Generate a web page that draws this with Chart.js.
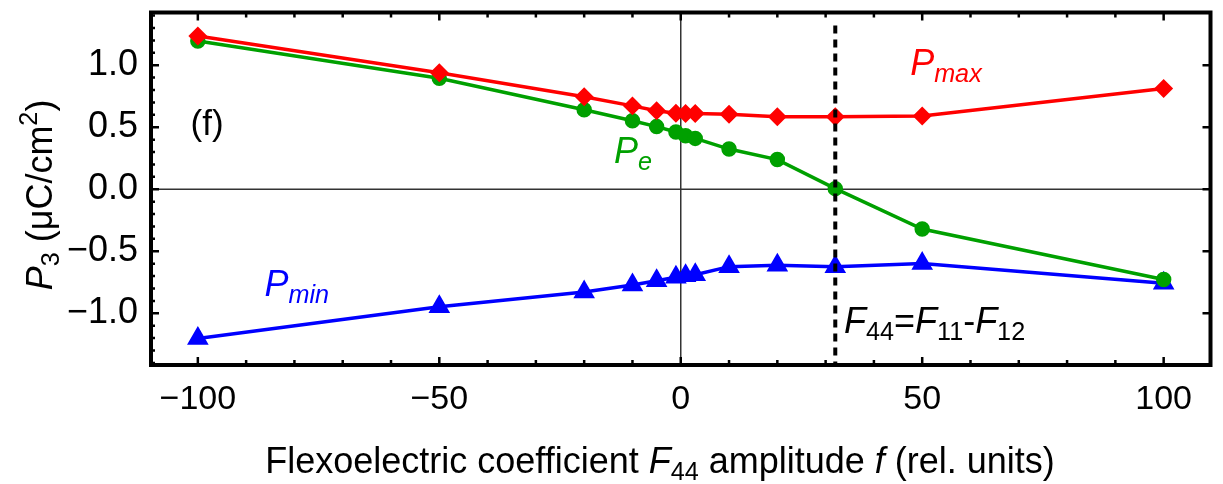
<!DOCTYPE html>
<html>
<head>
<meta charset="utf-8">
<script src="https://cdn.jsdelivr.net/npm/chart.js@4/dist/chart.umd.min.js"></script>
<style>
  html, body { margin: 0; padding: 0; background: #fff; }
  #wrap { width: 1223px; height: 484px; }
</style>
</head>
<body>
<div id="wrap"><canvas id="chart"></canvas></div>
<script>
// valores
const fValues = [-100, -50, -20, -10, -5, -1, 1, 3, 10, 20, 32, 50, 100];
const pMax = [1.236, 0.94, 0.746, 0.672, 0.633, 0.612, 0.61, 0.61, 0.604, 0.585, 0.585, 0.59, 0.812];
const pE = [1.196, 0.895, 0.641, 0.552, 0.505, 0.462, 0.432, 0.41, 0.324, 0.239, 0.005, -0.321, -0.728];
const pMin = [-1.203, -0.947, -0.829, -0.772, -0.737, -0.709, -0.697, -0.689, -0.624, -0.612, -0.625, -0.599, -0.757];
const xTicks = [-100, -50, 0, 50, 100];
const yTicks = [-1.0, -0.5, 0.0, 0.5, 1.0];
const fCrit = 32; // F44 = F11 - F12

const FONT = "'Liberation Sans', Arial, sans-serif";
const RED = '#ff0000', GREEN = '#00a000', BLUE = '#0000ff';

const toPoints = ys => fValues.map((x, i) => ({ x: x, y: ys[i] }));
const fmt = v => (v < 0 ? '\u2212' : '') + Math.abs(v);

// texto com itálico / subscrito / sobrescrito
function richWidth(ctx, parts, size) {
    let w = 0;
    parts.forEach(p => {
        const s = (p.sub || p.sup) ? size * 0.7 : size;
        ctx.font = (p.i ? 'italic ' : '') + s + 'px ' + FONT;
        w += ctx.measureText(p.t).width;
    });
    return w;
}
function drawRich(ctx, parts, x, y, size, color) {
    ctx.save();
    ctx.fillStyle = color;
    ctx.textBaseline = 'alphabetic';
    ctx.textAlign = 'left';
    parts.forEach(p => {
        const s = (p.sub || p.sup) ? size * 0.7 : size;
        ctx.font = (p.i ? 'italic ' : '') + s + 'px ' + FONT;
        let dy = 0;
        if (p.sub) dy = size * 0.2;
        if (p.sup) dy = -size * 0.42;
        ctx.fillText(p.t, x, y + dy);
        x += ctx.measureText(p.t).width;
    });
    ctx.restore();
}

const decorations = {
    id: 'decorations',
    beforeDatasetsDraw(chart) {
        const { ctx, chartArea: a, scales: { x, y } } = chart;
        ctx.save();
        // eixos em zero
        ctx.strokeStyle = '#333';
        ctx.lineWidth = 1.5;
        ctx.beginPath();
        ctx.moveTo(x.getPixelForValue(0), a.top);
        ctx.lineTo(x.getPixelForValue(0), a.bottom);
        ctx.moveTo(a.left, y.getPixelForValue(0));
        ctx.lineTo(a.right, y.getPixelForValue(0));
        ctx.stroke();
        ctx.restore();
    },
    afterDatasetsDraw(chart) {
        const { ctx, chartArea: a, scales: { x, y } } = chart;
        ctx.save();
        // linha tracejada F44 = F11 - F12
        ctx.strokeStyle = '#000';
        ctx.lineWidth = 4;
        ctx.setLineDash([8, 6]);
        const xc = x.getPixelForValue(fCrit);
        ctx.beginPath();
        ctx.moveTo(xc, a.top + 13);
        ctx.lineTo(xc, a.bottom);
        ctx.stroke();
        ctx.setLineDash([]);

        // moldura e marcas para dentro
        ctx.lineWidth = 4;
        ctx.strokeRect(a.left, a.top, a.right - a.left, a.bottom - a.top);
        ctx.lineWidth = 2.5;
        ctx.beginPath();
        for (let v = -100; v <= 100; v += 10) {
            const px = x.getPixelForValue(v);
            const len = v % 50 === 0 ? 8 : 5;
            ctx.moveTo(px, a.bottom); ctx.lineTo(px, a.bottom - len);
            ctx.moveTo(px, a.top); ctx.lineTo(px, a.top + len);
        }
        for (let k = -14; k <= 14; k++) {
            const py = y.getPixelForValue(k / 10);
            const major = k % 5 === 0;
            const len = major ? 8 : 4;
            ctx.moveTo(a.left, py); ctx.lineTo(a.left + len, py);
            if (major) { ctx.moveTo(a.right, py); ctx.lineTo(a.right - len, py); }
        }
        ctx.stroke();
        ctx.restore();

        // rótulos
        const at = (vx, vy) => [x.getPixelForValue(vx), y.getPixelForValue(vy)];
        let p;
        p = at(47.5, 0.92);
        drawRich(ctx, [{ t: 'P', i: true }, { t: 'max', i: true, sub: true }], p[0], p[1], 36, RED);
        p = at(-13.8, 0.21);
        drawRich(ctx, [{ t: 'P', i: true }, { t: 'e', i: true, sub: true }], p[0], p[1], 36, GREEN);
        p = at(-86.2, -0.86);
        drawRich(ctx, [{ t: 'P', i: true }, { t: 'min', i: true, sub: true }], p[0], p[1], 36, BLUE);
        p = at(33.8, -1.16);
        drawRich(ctx, [{ t: 'F', i: true }, { t: '44', sub: true }, { t: '=' }, { t: 'F', i: true },
            { t: '11', sub: true }, { t: '-' }, { t: 'F', i: true }, { t: '12', sub: true }], p[0], p[1], 36, '#000');
        p = at(-101.5, 0.44);
        drawRich(ctx, [{ t: '(f)' }], p[0], p[1], 35, '#000');

        // títulos dos eixos
        const xt = [{ t: 'Flexoelectric coefficient ' }, { t: 'F', i: true }, { t: '44', sub: true },
            { t: ' amplitude ' }, { t: 'f', i: true }, { t: ' (rel. units)' }];
        const xw = richWidth(ctx, xt, 36);
        drawRich(ctx, xt, 660 - xw / 2, 473, 36, '#000');

        const yt = [{ t: 'P', i: true }, { t: '3', sub: true }, { t: ' (\u03bcC/cm' }, { t: '2', sup: true }, { t: ')' }];
        const yw = richWidth(ctx, yt, 36);
        ctx.save();
        ctx.translate(52, 195);
        ctx.rotate(-Math.PI / 2);
        drawRich(ctx, yt, -yw / 2, 0, 36, '#000');
        ctx.restore();
    }
};

const ctx = document.getElementById('chart');
new Chart(ctx, {
    type: 'scatter',
    data: {
        datasets: [{
            label: 'Pmax',
            data: toPoints(pMax),
            borderColor: RED,
            backgroundColor: RED,
            pointStyle: 'rectRot',
            pointRadius: 7,
            borderWidth: 3.5,
            showLine: true
        }, {
            label: 'Pe',
            data: toPoints(pE),
            borderColor: GREEN,
            backgroundColor: GREEN,
            pointStyle: 'circle',
            pointRadius: 6,
            borderWidth: 3.5,
            showLine: true
        }, {
            label: 'Pmin',
            data: toPoints(pMin),
            borderColor: BLUE,
            backgroundColor: BLUE,
            pointStyle: 'triangle',
            pointRadius: 9,
            borderWidth: 3.5,
            showLine: true
        }]
    },
    options: {
        responsive: true,
        maintainAspectRatio: false,
        animation: false,
        layout: { padding: { top: 7, right: 6, left: 0, bottom: 0 } },
        plugins: { legend: { display: false }, tooltip: { enabled: false } },
        scales: {
            x: {
                type: 'linear',
                min: -109.7,
                max: 109.7,
                afterFit: s => { s.height = 119; s.paddingLeft = 0; s.paddingRight = 0; },
                afterBuildTicks: s => { s.ticks = xTicks.map(v => ({ value: v })); },
                grid: { display: false, drawTicks: false },
                border: { display: false },
                ticks: {
                    color: '#000',
                    font: { family: FONT, size: 34 },
                    padding: 14,
                    maxRotation: 0,
                    callback: v => fmt(v)
                }
            },
            y: {
                type: 'linear',
                min: -1.417,
                max: 1.425,
                afterFit: s => { s.width = 151; s.paddingTop = 0; s.paddingBottom = 0; },
                afterBuildTicks: s => { s.ticks = yTicks.map(v => ({ value: v })); },
                grid: { display: false, drawTicks: false },
                border: { display: false },
                ticks: {
                    color: '#000',
                    font: { family: FONT, size: 36 },
                    padding: 13,
                    callback: v => (v < 0 ? '\u2212' : '') + Math.abs(v).toFixed(1)
                }
            }
        }
    },
    plugins: [decorations]
});
</script>
</body>
</html>
